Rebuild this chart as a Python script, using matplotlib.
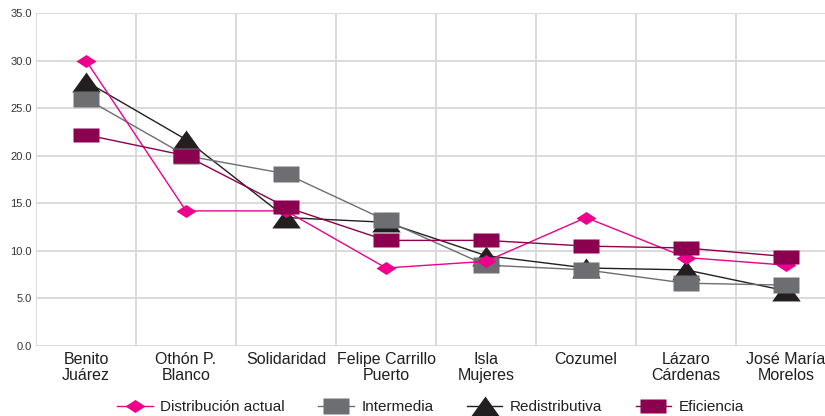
import matplotlib
matplotlib.use('Agg')
import matplotlib.pyplot as plt

plt.rcParams['font.family'] = ['Liberation Sans', 'DejaVu Sans']

municipios = ['Benito\nJuárez', 'Othón P.\nBlanco', 'Solidaridad', 'Felipe Carrillo\nPuerto',
              'Isla\nMujeres', 'Cozumel', 'Lázaro\nCárdenas', 'José María\nMorelos']

distribucion_actual = [30.0, 14.2, 14.2, 8.2, 8.9, 13.5, 9.3, 8.5]
intermedia = [26.0, 20.0, 18.1, 13.2, 8.5, 8.0, 6.6, 6.4]
redistributiva = [27.8, 21.7, 13.5, 13.0, 9.5, 8.2, 8.0, 5.8]
eficiencia = [22.2, 20.0, 14.6, 11.1, 11.1, 10.5, 10.3, 9.4]

y_ticks = [0, 5, 10, 15, 20, 25, 30, 35]

# marker shapes (wide, like the original)
diamond = [(-1, 0), (0, 0.65), (1, 0), (0, -0.65)]
rect_gray = [(-1, -0.63), (1, -0.63), (1, 0.63), (-1, 0.63)]
rect_efi = [(-1, -0.54), (1, -0.54), (1, 0.54), (-1, 0.54)]
tri = [(-1, -0.7), (1, -0.7), (0, 0.7)]

c_pink = '#EC008C'
c_gray = '#6D6E71'
c_black = '#231F20'
c_efi = '#8C0050'

fig = plt.figure(figsize=(8.25, 4.16), dpi=100)
ax = fig.add_axes([36 / 825, 70 / 416, 800 / 825, 333 / 416])

x = list(range(len(municipios)))

l_red, = ax.plot(x, redistributiva, color=c_black, lw=1.0, marker=tri, ms=20.5,
                 mec='none', mfc=c_black, label='Redistributiva', zorder=3)
l_int, = ax.plot(x, intermedia, color=c_gray, lw=1.0, marker=rect_gray, ms=19.4,
                 mec='none', mfc=c_gray, label='Intermedia', zorder=4)
l_dis, = ax.plot(x, distribucion_actual, color=c_pink, lw=1.0, marker=diamond, ms=14.4,
                 mec='none', mfc=c_pink, label='Distribución actual', zorder=5)
l_efi, = ax.plot(x, eficiencia, color=c_efi, lw=1.0, marker=rect_efi, ms=18.7,
                 mec='none', mfc=c_efi, label='Eficiencia', zorder=6)

ax.set_xlim(-0.5, len(municipios) - 0.5)
ax.set_ylim(0, 35)
ax.set_yticks(y_ticks)
ax.set_yticklabels([f'{v:.1f}' for v in y_ticks], fontsize=8, color='#333333')
ax.set_xticks(x)
ax.set_xticklabels(municipios, fontsize=11.5, color='#231F20', linespacing=1.15)
ax.tick_params(axis='both', length=0)
ax.tick_params(axis='y', pad=3)
ax.tick_params(axis='x', pad=4)

for v in y_ticks:
    ax.axhline(v, color='#D9D9D9', lw=1.4, zorder=1)
for b in range(len(municipios) + 1):
    ax.axvline(b - 0.5, color='#D9D9D9', lw=1.4, zorder=1)
for s in ax.spines.values():
    s.set_visible(False)

fig.legend(handles=[l_dis, l_int, l_red, l_efi], loc='center', ncol=4,
           bbox_to_anchor=(0.522, 0.022), frameon=False, fontsize=11,
           handlelength=2.3, columnspacing=2.2, handletextpad=0.5,
           labelcolor='#231F20')

fig.savefig('out.png', dpi=100)
